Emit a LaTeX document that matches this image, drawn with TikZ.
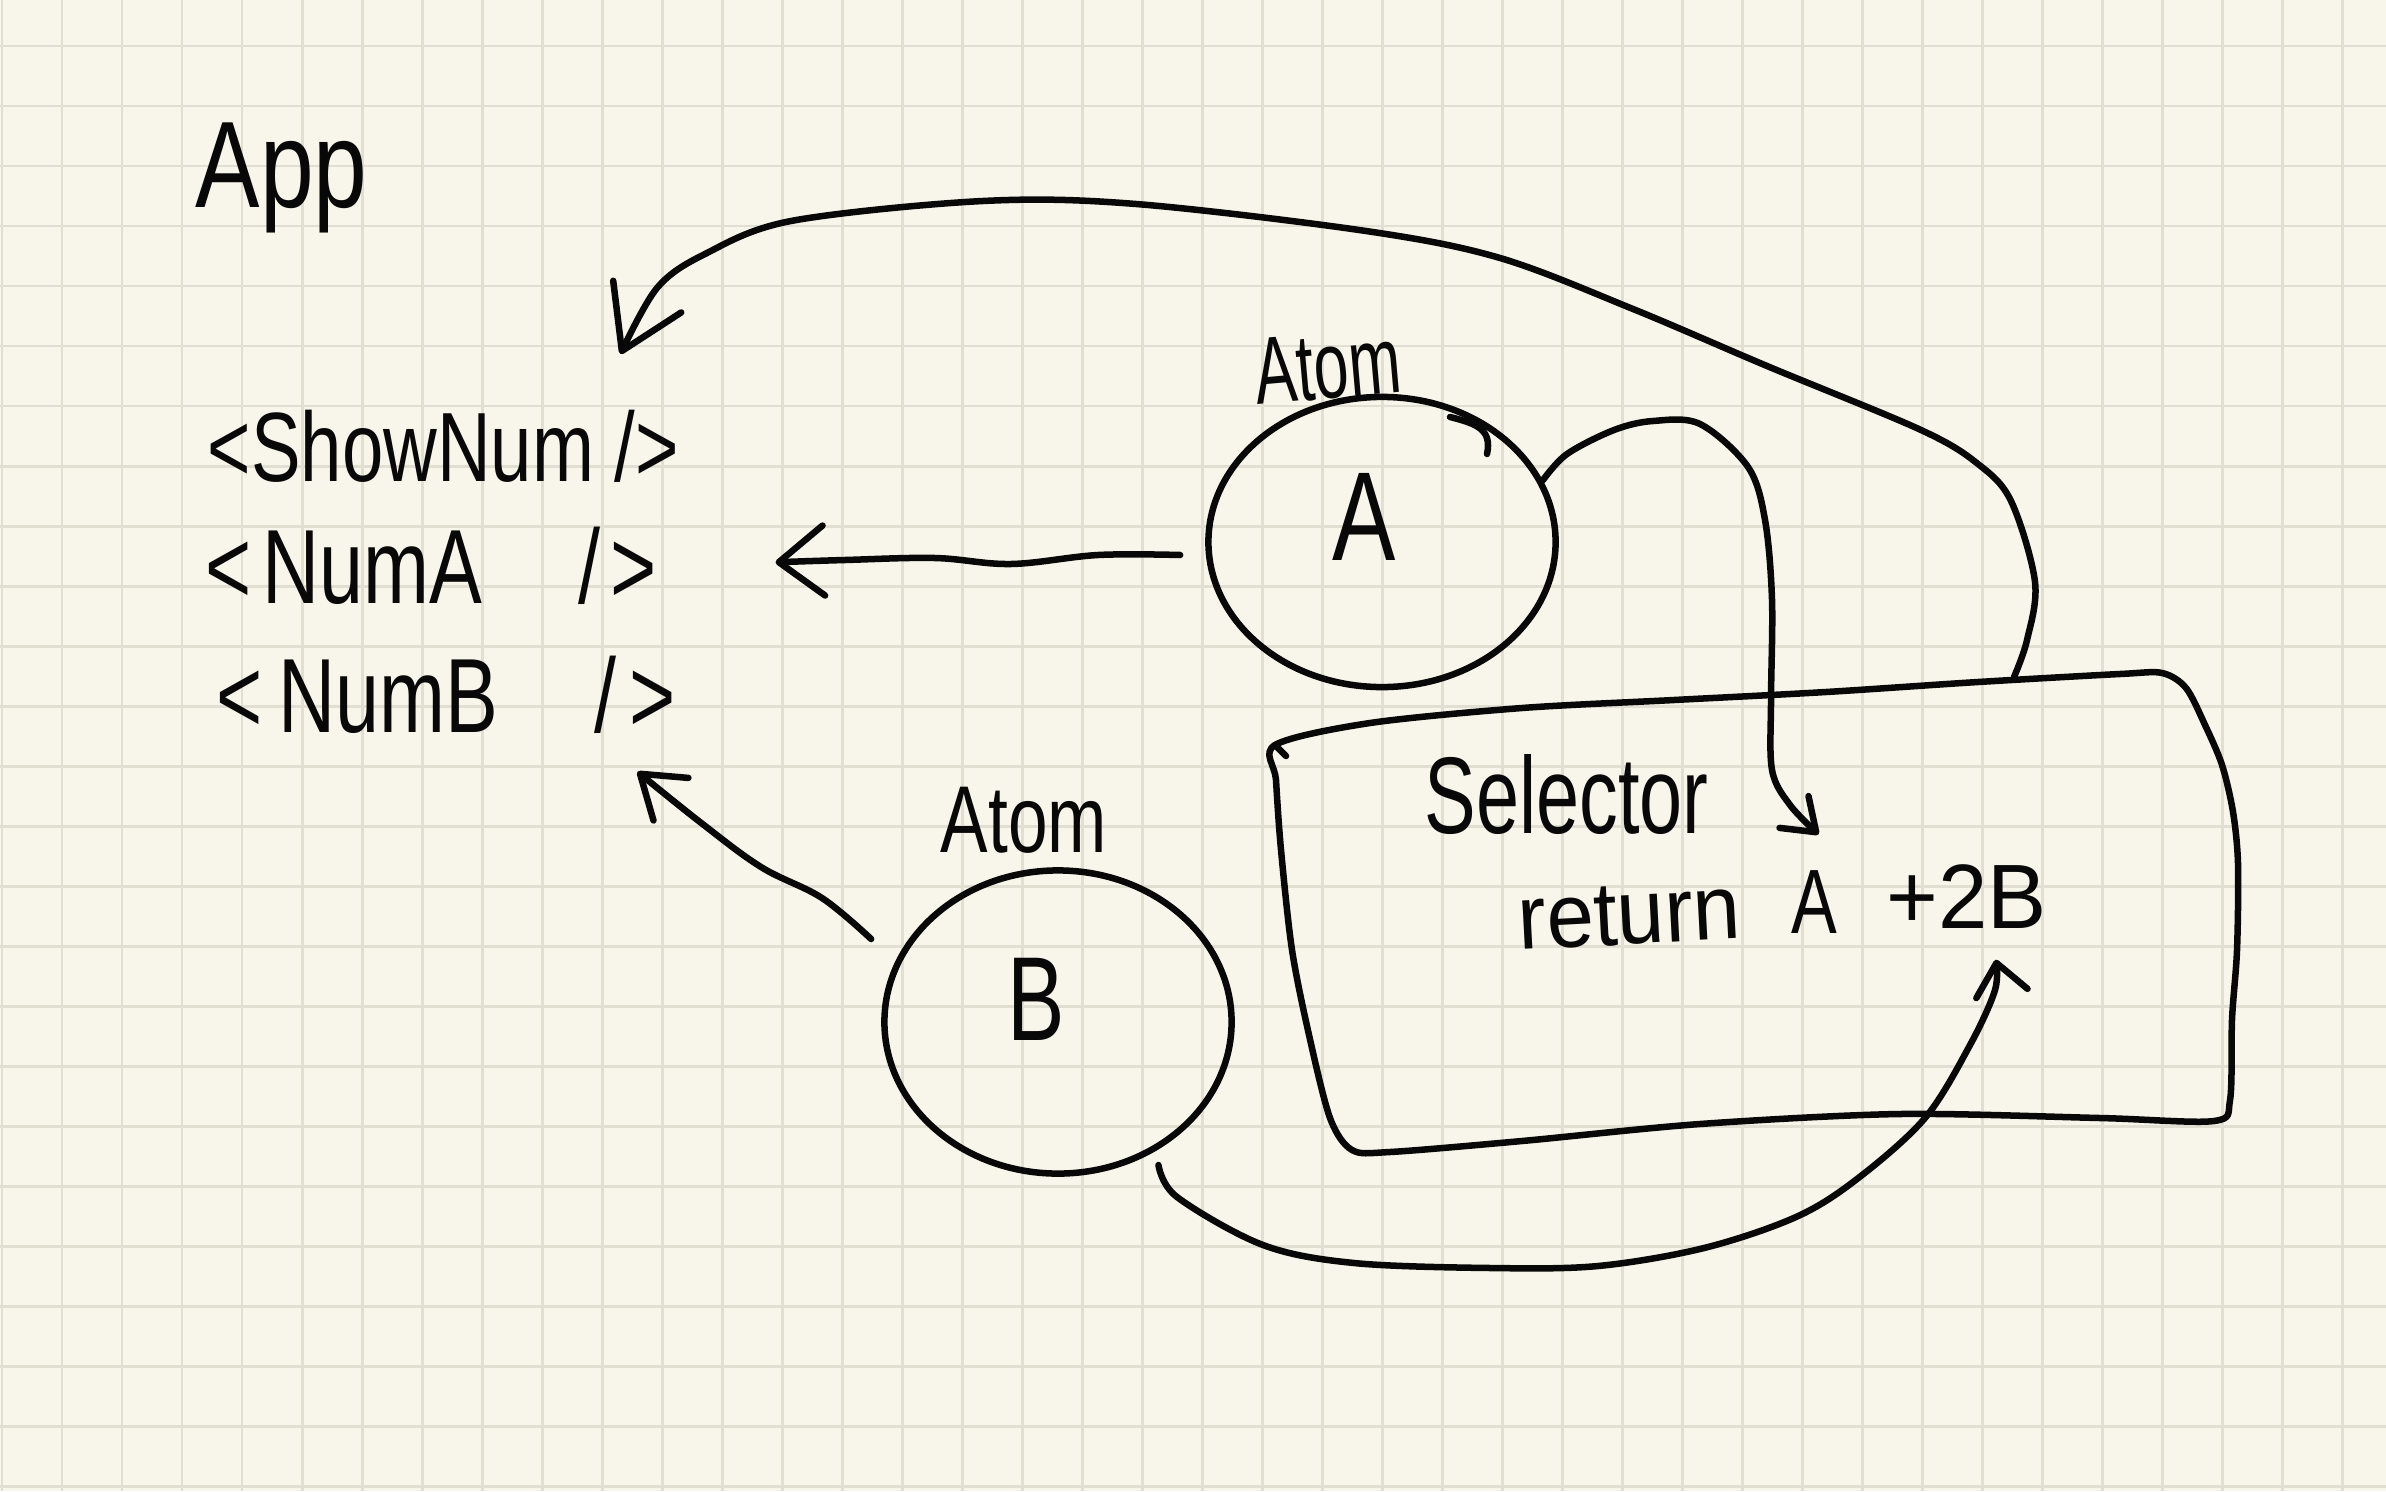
\documentclass[tikz,border=0pt]{standalone}
\usepackage{fontspec}
\setmainfont{Liberation Sans}
\usetikzlibrary{arrows.meta, shapes.geometric}
\definecolor{paper}{RGB}{248,246,234}
\definecolor{gridgray}{RGB}{225,222,210}
\definecolor{ink}{RGB}{8,8,8}
\newcommand{\handtext}[2]{\scalebox{#1}[1]{#2}}
\newcommand{\pensize}[1]{\fontsize{#1}{#1}\selectfont}
\tikzset{
    sketch/.style={draw=ink, line width=1.85pt, line cap=round, line join=round},
    sketch arrow/.style 2 args={sketch, -{Straight Barb[round, length=#1, width=#2]}},
    sketch label/.style={inner sep=0pt, anchor=base west, text=ink},
    sketch circle/.style={ellipse, sketch, inner sep=0pt},
    grid rule/.style={draw=gridgray, line width=0.85pt},
}

\begin{document}
\begin{tikzpicture}[x=0.01cm, y=-0.01cm]
    \fill[paper] (0,0) rectangle (2386,1491);
    \useasboundingbox (0,0) rectangle (2386,1491);
    \foreach \gx in {2,62,...,2386} \draw[grid rule] (\gx,0) -- (\gx,1491);
    \foreach \gy in {46,106,...,1491} \draw[grid rule] (0,\gy) -- (2386,\gy);

    % component tree
    \node[sketch label, font=\pensize{35}] (app) at (195,208) {\handtext{0.785}{App}};
    \node[sketch label, font=\pensize{28}] (shownum) at (207,481) {\handtext{0.755}{<ShowNum />}};
    \node[sketch label, font=\pensize{30}] (numa) at (205,603) {\handtext{0.75}{<\hspace{4pt}NumA\hspace{28pt} /\hspace{4pt}>}};
    \node[sketch label, font=\pensize{30}] (numb) at (216,732) {\handtext{0.75}{<\hspace{6pt}NumB\hspace{28pt} /\hspace{5pt}>}};

    % atoms
    \node[sketch circle, minimum width=3.47cm, minimum height=2.9cm] (atoma) at (1382,542) {};
    \node[sketch label, anchor=base, font=\pensize{36}] (aname) at (1364,560) {\handtext{0.75}{A}};
    \node[sketch label, font=\pensize{27}, rotate=5] (atomalabel) at (1257,405) {\handtext{0.66}{Atom}};
    \draw[sketch] (1450,417) .. controls (1478,424) and (1492,430) .. (1487,454);
    \node[sketch circle, minimum width=3.47cm, minimum height=3.03cm] (atomb) at (1058,1022) {};
    \node[sketch label, anchor=base, font=\pensize{34}] (bname) at (1036,1040) {\handtext{0.72}{B}};
    \node[sketch label, font=\pensize{27}] (atomblabel) at (940,852) {\handtext{0.75}{Atom}};

    % selector
    \draw[sketch] plot[smooth cycle, tension=0.5] coordinates {(1275,745) (1370,723) (1522,708)
        (1674,700) (1826,692) (1978,682) (2120,674) (2162,673) (2186,688) (2205,725) (2222,765)
        (2233,812) (2238,864) (2237,950) (2232,1019) (2230,1100) (2214,1121) (2100,1118)
        (1900,1114) (1700,1124) (1522,1141) (1390,1152) (1352,1150) (1330,1118) (1309,1035)
        (1292,950) (1281,850) (1276,780)};
    \draw[sketch] (1275,745) -- (1286,756);
    \coordinate (seltop) at (2014,677);
    \node[sketch label, font=\pensize{31}] (selname) at (1424,833) {\handtext{0.71}{Selector}};
    \node[sketch label, font=\pensize{26}, rotate=3] (retword) at (1519,950) {\handtext{0.93}{return}};
    \node[sketch label, font=\pensize{26}] (reta) at (1791,933) {\handtext{0.75}{A}};
    \node[sketch label, font=\pensize{26}] (retsum) at (1886,928) {\handtext{0.97}{+2B}};

    % arrows
    \draw[sketch arrow={4.5mm}{7mm}] plot[smooth, tension=0.6] coordinates {([shift={(-25,13)}]atoma.west)
        (1098,555) (1011,564) (935,558) (845,560) ([shift={(118,-3)}]numa.east)};
    \draw[sketch arrow={4mm}{5.5mm}] plot[smooth, tension=0.6] coordinates {([shift={(-10,-83)}]atomb.west)
        (822,898) (761,867) (700,822) ([shift={(-39,38)}]numb.south east)};
    \draw[sketch arrow={6mm}{7.5mm}] plot[smooth, tension=0.55] coordinates {(seltop) (2027,640)
        (2035,582) (2011,501) (1978,464) (1921,430) (1767,366) (1633,309) (1500,258) (1366,231)
        (1136,204) (983,201) (791,221) (705,254) (657,288) ([shift={(-59,-55)}]shownum.north east)};
    \draw[sketch arrow={3mm}{4.3mm}] plot[smooth, tension=0.55] coordinates {(atoma.21) (1567,454)
        (1614,430) (1653,421) (1700,424) (1748,467) (1765,520) (1772,600) (1771,700) (1772,770)
        (1790,805) ([shift={(4,-35)}]reta.north)};
    \draw[sketch arrow={3.1mm}{5.2mm}] plot[smooth, tension=0.55] coordinates {([shift={(8,11)}]atomb.-55)
        (1177,1197) (1263,1245) (1354,1263) (1491,1268) (1598,1266) (1704,1248) (1796,1217)
        (1857,1179) (1925,1118) (1970,1045) (1995,990) ([shift={(29,31)}]retsum.south)};
\end{tikzpicture}
\end{document}
